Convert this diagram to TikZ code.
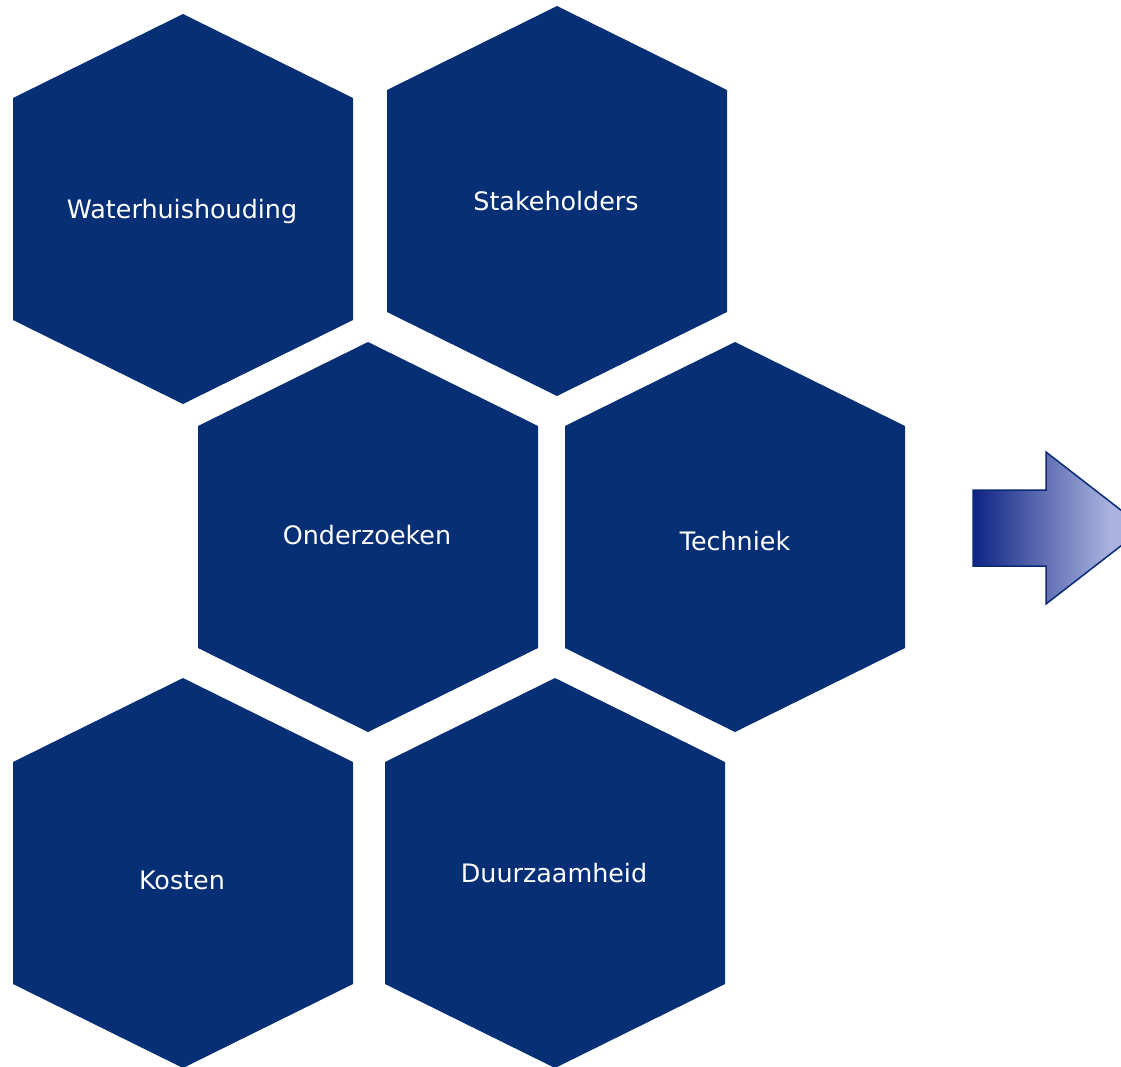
\documentclass[tikz,border=0pt]{standalone}
\usepackage{fontspec}
\setmainfont{DejaVu Sans}
\definecolor{hexblue}{HTML}{072F75}
\definecolor{arrdark}{HTML}{0F2484}
\definecolor{arrlight}{HTML}{AAB3DF}
\definecolor{arredge}{HTML}{0A2A78}
\begin{document}
\begin{tikzpicture}[x=1pt,y=-1pt,
  hexlabel/.style={text=white,font=\fontsize{25.4}{30}\selectfont,anchor=base,inner sep=0pt},
  hexshape/.pic={\fill[hexblue] (0,-195) -- (170,-111) -- (170,111) -- (0,195) -- (-170,111) -- (-170,-111) -- cycle;}]
\useasboundingbox (0,0) rectangle (1121,1066);
\clip (0,0) rectangle (1121,1066);
% hexagons
\pic at (183,209) {hexshape};
\pic at (557,201) {hexshape};
\pic at (368,537) {hexshape};
\pic at (735,537) {hexshape};
\pic at (183,873) {hexshape};
\pic at (555,873) {hexshape};
% labels
\node[hexlabel] (water) at (182,218) {Waterhuishouding};
\node[hexlabel] (stake) at (556,210) {Stakeholders};
\node[hexlabel] (onder) at (367,544) {Onderzoeken};
\node[hexlabel] (tech) at (735,550) {Techniek};
\node[hexlabel] (kosten) at (182,889) {Kosten};
\node[hexlabel] (duur) at (554,882) {Duurzaamheid};
% arrow
\begin{scope}
\clip (973,490) -- (1046,490) -- (1046,452) -- (1144,528) -- (1046,604) -- (1046,566) -- (973,566) -- cycle;
\shade[left color=arrdark,right color=arrlight] (973,440) rectangle (1110,620);
\fill[arrlight] (1109.5,440) rectangle (1150,620);
\end{scope}
\draw[arredge,line width=1.5pt,line join=miter]
  (973,490) -- (1046,490) -- (1046,452) -- (1144,528) -- (1046,604) -- (1046,566) -- (973,566) -- cycle;
\end{tikzpicture}
\end{document}
